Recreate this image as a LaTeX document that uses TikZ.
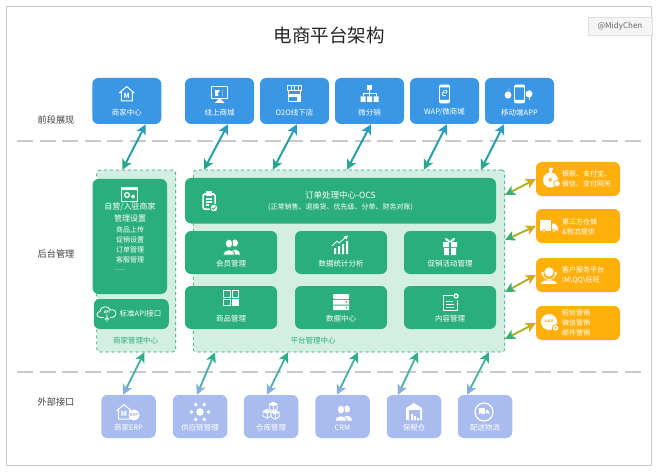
\documentclass[tikz,border=0pt]{standalone}
\usepackage{fontspec}
\setmainfont{Noto Sans CJK SC}
\usetikzlibrary{arrows.meta,calc}
\definecolor{cBlue}{HTML}{3A97E6}
\definecolor{cGreen}{HTML}{2BAE7E}
\definecolor{cPale}{HTML}{D3EFE4}
\definecolor{cOrange}{HTML}{FFB00D}
\definecolor{cPurple}{HTML}{A9BCF0}
\definecolor{cGrey}{HTML}{C9C9C9}
\definecolor{cTeal}{HTML}{27A0A8}
\definecolor{cTealA}{HTML}{2C9CC4}
\definecolor{cTealB}{HTML}{27A78C}
\definecolor{cLow}{HTML}{4FB0A8}
\definecolor{cLowA}{HTML}{2FAE8C}
\definecolor{cLowB}{HTML}{86AEE0}
\definecolor{cOlive}{HTML}{A9B02E}
\definecolor{cOliveA}{HTML}{D6AC14}
\definecolor{cOliveB}{HTML}{3AAE70}
\tikzset{
	box/.style={inner sep=0pt, minimum width=#1, rounded corners=6pt},
	bluebox/.style={box=69pt, fill=cBlue, minimum height=46pt},
	greenbox/.style={box=92pt, fill=cGreen, minimum height=43pt},
	orangebox/.style={box=84pt, fill=cOrange, minimum height=34pt},
	purplebox/.style={box=54.5pt, fill=cPurple, minimum height=43pt},
	ctrbox/.style={inner sep=0pt, fill=cPale, draw=cGreen!90!black, dashed, line width=.6pt, rounded corners=3pt},
	txt/.style={text=white, inner sep=0pt, font=\fontsize{7.5}{9}\selectfont},
	side/.style={text=black!75, inner sep=0pt, font=\fontsize{9.2}{11}\selectfont},
	ico/.style={draw=white, line width=.8pt},
	icotxt/.style={text=white, inner sep=0pt, font=\bfseries\fontsize{#1}{#1}\selectfont},
	sepline/.style={draw=cGrey, line width=1.1pt, dash pattern=on 16pt off 6.5pt},
	arrtop/.style={draw=cTeal, line width=2pt, {Stealth[length=10pt,width=10pt,inset=2.5pt,color=cTealB]}-{Stealth[length=10pt,width=10pt,inset=2.5pt,color=cTealA]}},
	arrlow/.style={draw=cLow, line width=1.9pt, {Stealth[length=10pt,width=10pt,inset=2.5pt,color=cLowB]}-{Stealth[length=10pt,width=10pt,inset=2.5pt,color=cLowA]}},
	arrside/.style={draw=cOlive, line width=1.9pt, {Stealth[length=10pt,width=10pt,inset=2.5pt,color=cOliveB]}-{Stealth[length=10pt,width=10pt,inset=2.5pt,color=cOliveA]}},
}
% icons, drawn round (0,0), y going down
\newcommand{\icoHouse}{
	\draw[ico,line width=1pt] (-7.5,-1)--(0,-7.5)--(7.5,-1) (-5.5,-2)--(-5.5,7)--(5.5,7)--(5.5,-2);
	\node[icotxt=7] (mk) at (0,2) {M};
}
\newcommand{\icoPeople}[1]{
	\fill[white] (4,-4) ellipse (3 and 3.6);
	\fill[white] (-1,7.5) .. controls (0,1) and (8,1) .. (9,7.5) -- cycle;
	\draw[#1,fill=white,line width=.7pt] (-2,-3.5) ellipse (3.6 and 4.4);
	\draw[#1,fill=white,line width=.7pt] (-8,8) .. controls (-7,1) and (3,1) .. (4,8) -- cycle;
}
\newcommand{\icoTruck}[1]{
	\fill[white] (-9,-6.5) rectangle (2,4);
	\fill[white] (3,-3)--(6,-3)--(9,1)--(9,4)--(3,4)--cycle;
	\draw[#1,fill=white,line width=.7pt] (-5,4.5) circle (1.6) (5,4.5) circle (1.6);
}
\newcommand{\icoPhone}{
	\draw[ico,rounded corners=1.5pt,line width=.9pt] (-5,-9) rectangle (5,9);
	\fill[white] (-5,-9) rectangle (5,-6.5) (-5,6) rectangle (5,9);
}
\begin{document}
\begin{tikzpicture}[x=1pt, y=-1pt, line join=round]
	\useasboundingbox (0,0) rectangle (658,473);
	\fill[white] (0,0) rectangle (658,473);
	\draw[cGrey, line width=.8pt] (6.5,6) rectangle (651.5,465.5);
	\node[draw=black!12, fill=black!4, inner sep=0pt, minimum width=64pt, minimum height=18pt, text=black!60, font=\fontsize{8}{9}\selectfont] (mark) at (620,26) {@MidyChen};
	\node[inner sep=0pt, text=black!85, font=\fontsize{18.5}{22}\selectfont] (title) at (329,35) {电商平台架构};
	\draw[sepline] (17,141) -- (642,141);
	\draw[sepline] (17,372) -- (642,372);
	\node[side] (lab1) at (56,120) {前段展现};
	\node[side] (lab2) at (56,254) {后台管理};
	\node[side] (lab3) at (56,402) {外部接口};
	% front row
	\foreach \n/\x/\t in {b1/126.75/商家中心, b2/219.5/线上商城, b3/294.5/O2O线下店, b4/369.5/微分销, b5/444.5/{WAP/微商城}, b6/519.5/移动端APP}{
		\node[bluebox] (\n) at (\x,101) {};
		\node[txt] (\n t) at (\x,112.5) {\t};
	}
	% containers
	\node[ctrbox, minimum width=79pt, minimum height=182pt] (merch) at (136.25,261) {};
	\node[ctrbox, minimum width=311.5pt, minimum height=182pt] (plat) at (349,261) {};
	\node[txt, text=cGreen] (merchlab) at (135.5,341) {商家管理中心};
	\node[txt, text=cGreen] (platlab) at (313,341) {平台管理中心};
	% merchant side
	\node[box=74.5pt, fill=cGreen, minimum height=115pt] (self) at (129.75,236.5) {};
	\node[txt, font=\fontsize{8}{10}\selectfont] (s1) at (130,207) {自营/入驻商家};
	\node[txt, font=\fontsize{8}{10}\selectfont] (s2) at (130,218) {管理设置};
	\foreach \n/\y/\t in {s3/230/商品上传, s4/240/促销设置, s5/250/订单管理, s6/260/客服管理}
		\node[txt, font=\fontsize{7}{9}\selectfont] (\n) at (130,\y) {\t};
	\node[txt, font=\fontsize{7}{9}\selectfont] (s7) at (120,270) {......};
	\node[box=75pt, fill=cGreen, minimum height=30pt] (api) at (131.25,314) {};
	\node[txt, font=\fontsize{7.5}{10}\selectfont] (apit) at (140.5,314) {标准API接口};
	% platform side
	\node[box=311pt, fill=cGreen, minimum height=45.5pt] (ocs) at (340.5,200.75) {};
	\node[txt, font=\fontsize{8.5}{10}\selectfont] (ocs1) at (340.5,195) {订单处理中心-OCS};
	\node[txt, font=\fontsize{7}{9}\selectfont] (ocs2) at (340.5,207) {(正常销售、退换货、优先级、分单、财务对账)};
	\foreach \n/\x/\y/\t in {g1/231/252.5/会员管理, g2/341/252.5/数据统计分析, g3/450/252.5/促销活动管理, g4/231/307.5/商品管理, g5/341/307.5/数据中心, g6/450/307.5/内容管理}{
		\node[greenbox] (\n) at (\x,\y) {};
		\node[txt] (\n t) at (\x,\y+11) {\t};
	}
	% right side
	\foreach \n/\y in {o1/179, o2/226, o3/275, o4/323}
		\node[orangebox] (\n) at (578,\y) {};
	\foreach \n/\y/\t in {o1a/174/银联、支付宝、, o1b/184/微信、支付网关, o2a/222/第三方仓储, o2b/232/\&物流提供, o3a/270/客户服务平台, o3b/280/IM\textbackslash QQ\textbackslash 旺旺, o4a/313/短信营销, o4b/323/微信营销, o4c/333/邮件营销}
		\node[txt, anchor=west, font=\fontsize{7}{9}\selectfont] (\n) at (562,\y) {\t};
	% bottom row
	\foreach \n/\x/\t in {p1/128.5/商家ERP, p2/200/供应链管理, p3/271/仓库管理, p4/342.5/CRM, p5/414/保税仓, p6/485/配送物流}{
		\node[purplebox] (\n) at (\x,416.5) {};
		\node[txt] (\n t) at (\x,428) {\t};
	}
	% connectors
	\foreach \a/\sa/\c/\sc in {b1/19/merch/26, b2/8.5/plat/11, b3/2.5/plat/80, b4/1.5/plat/154, b5/2.5/plat/231, b6/-15.5/plat/288}
		\draw[arrtop] ([xshift=\sc pt]\c.north west) -- ([xshift=\sa pt]\a.south);
	\foreach \c/\sc/\a/\sa in {merch/48/p1/-5.5, plat/22/p2/-3, plat/95/p3/-4, plat/165/p4/-5.5, plat/225/p5/-16, plat/296/p6/-18}
		\draw[arrlow] ([xshift=\sa pt]\a.north) -- ([xshift=\sc pt]\c.south west);
	\foreach \s/\a in {66/o1, 21/o2, -31/o3, -78/o4}
		\draw[arrside] ([yshift=\s pt]plat.east) -- (\a.west);
	% icons, front row
	\begin{scope}[shift={(b1.center)}, yshift=7pt] \icoHouse \end{scope}
	\begin{scope}[shift={(b2.center)}, yshift=7pt]
		\draw[ico,line width=1pt] (-8,-7) rectangle (8,5);
		\fill[white] (-5,-4) rectangle (3,2);
		\fill[cBlue] (1,-4) .. controls (-2,-1) and (-2,1) .. (-1,2) -- (3,2) -- (3,-4) -- cycle;
		\fill[white] (-5,9)--(5,9)--(1,5)--(-1,5)--cycle;
	\end{scope}
	\begin{scope}[shift={(b3.center)}, yshift=7pt]
		\draw[ico,line width=1pt] (-7,-8) rectangle (7,-3) (-6,-3)--(-6,8)--(6,8)--(6,-3);
		\foreach \x in {-3.5,0,3.5} \draw[ico] (\x,-8)--(\x,-3);
		\fill[white] (-6,0) rectangle (6,3);
		\fill[white] (2,3) rectangle (6,8);
	\end{scope}
	\begin{scope}[shift={(b4.center)}, yshift=7pt]
		\fill[white] (-2.5,-9) rectangle (2.5,-4);
		\fill[white] (-9,2.5) rectangle (-4,8) (-2.5,2.5) rectangle (2.5,8) (4,2.5) rectangle (9,8);
		\draw[ico] (0,-4)--(0,2.5) (-6.5,2.5)--(-6.5,-.5)--(6.5,-.5)--(6.5,2.5);
	\end{scope}
	\begin{scope}[shift={(b5.center)}, yshift=7pt]
		\icoPhone
		\node[text=white, inner sep=0pt, xslant=.3, transform shape, font=\fontsize{11}{11}\selectfont] (ee) at (0,-.5) {e};
	\end{scope}
	\begin{scope}[shift={(b6.center)}, yshift=7pt]
		\icoPhone
		\fill[white] (-11.5,1) ellipse (3.4 and 3.6) (-11,-4) -- (-10,-5.5) -- (-10.5,-3) -- cycle;
		\fill[white] (9.5,0) circle (3.5);
		\draw[ico,line width=1pt] (9.5,-4)--(9.5,6);
	\end{scope}
	% icons, green boxes
	\begin{scope}[shift={(129,194)}]
		\draw[ico] (-8,-7) rectangle (8,7);
		\fill[white] (-8,-7) rectangle (8,-4);
		\draw[ico,line width=1.2pt] (-2,1) circle (2.4) (4,2.5) circle (1.4);
	\end{scope}
	\begin{scope}[shift={(209,201)}]
		\draw[ico,line width=1.5pt,rounded corners=1.5pt] (-6,-7) -- (-6,8) -- (6,8) -- (6,-7) -- cycle;
		\fill[white] (-3,-10) rectangle (3,-5);
		\draw[ico,line width=1.2pt] (-3,-2)--(3,-2) (-3,1)--(3,1) (-3,4)--(0,4);
		\draw[cGreen,fill=white,line width=1pt] (5,7) circle (4);
		\draw[cGreen,line width=.8pt] (3,7)--(4.5,8.5)--(7,5.5);
	\end{scope}
	\begin{scope}[shift={(231,247)}] \icoPeople{cGreen} \end{scope}
	\begin{scope}[shift={(340,246)}]
		\fill[white] (-6,2) rectangle (-4,8) (-2,0) rectangle (0,8) (2,-2) rectangle (4,8) (6,-5) rectangle (8,8);
		\draw[ico] (-8,0) -- (-3,-5) -- (-1,-3) -- (6,-9);
		\fill[white] (8,-10.5) -- (3.5,-9.5) -- (6.5,-6.5) -- cycle;
	\end{scope}
	\begin{scope}[shift={(450,246)}]
		\fill[white] (-7,-4) rectangle (7,1) (-6,2) rectangle (6,9);
		\fill[cGreen] (-1.2,-4) rectangle (1.2,9);
		\draw[ico] (0,-4) .. controls (-7,-6) and (-5,-11) .. (0,-4) .. controls (5,-11) and (7,-6) .. (0,-4);
	\end{scope}
	\begin{scope}[shift={(231,298)}]
		\draw[ico] (-7.5,-7.5) rectangle (-1,-1) (1,-7.5) rectangle (7.5,-1) (-7.5,1) rectangle (-1,7.5);
		\fill[white] (1,1) rectangle (7.5,7.5);
	\end{scope}
	\begin{scope}[shift={(341,302)}]
		\fill[white,rounded corners=1pt] (-8,-8) rectangle (8,-3);
		\fill[white] (-8,-2) rectangle (8,2.5) (-8,3.5) rectangle (8,8);
		\fill[cGreen] (5.5,0) circle (.9) (5.5,5.5) circle (.9);
	\end{scope}
	\begin{scope}[shift={(450,302)}]
		\draw[ico] (3,-7) -- (-7,-7) -- (-7,8) -- (7,8) -- (7,-2);
		\draw[ico] (-4,-1)--(3,-1) (-4,2)--(4,2) (-4,5)--(4,5);
		\draw[ico,line width=1.3pt] (6,-6) circle (2);
	\end{scope}
	\begin{scope}[shift={(107,314)}]
		\draw[ico] (-3,3.5) -- (-7,3.5) .. controls (-11,3.5) and (-11,-2.5) .. (-7,-2.5) .. controls (-7,-8) and (2,-9) .. (3,-4) .. controls (7,-6) and (11,-1) .. (8,2) .. controls (7,3.5) and (5,3.5) .. (3,3.5);
		\draw[ico] (0,0)--(0,8) (-2,5.5)--(0,3.5)--(2,5.5);
		\node[icotxt=3.5] (cl) at (0,-1.5) {API};
	\end{scope}
	% icons, orange boxes
	\begin{scope}[shift={(550,179)}]
		\fill[white] (-1,-11) -- (3,-11) -- (1.5,-6) -- (-.5,-6) -- cycle;
		\fill[white] (.5,1) ellipse (7.5 and 7.5);
		\node[text=cOrange, inner sep=0pt, font=\bfseries\fontsize{6}{6}\selectfont] (yen) at (.5,1) {¥};
		\draw[cOrange,fill=white,line width=.7pt] (7,4.5) circle (3.2);
	\end{scope}
	\begin{scope}[shift={(549,226.5)}] \icoTruck{cOrange} \end{scope}
	\begin{scope}[shift={(549,275)}]
		\fill[white] (0,-3) circle (4.6);
		\draw[ico] (-6.5,-2) arc (180:360:6.5 and -6.5);
		\fill[white] (-7.5,-3) rectangle (-5.5,0) (5.5,-3) rectangle (7.5,0);
		\fill[white] (-8,9) .. controls (-8,4) and (8,4) .. (8,9) -- cycle;
	\end{scope}
	\begin{scope}[shift={(549,322)}]
		\fill[white] (0,0) circle (8);
		\node[text=cOrange, inner sep=0pt, font=\bfseries\fontsize{3.5}{4}\selectfont] (sale) at (0,-.5) {SALE};
		\draw[cOrange,fill=white,line width=.8pt] (6.5,6) circle (3.2);
		\fill[cOrange] (6.5,6) circle (1.1);
	\end{scope}
	% icons, bottom row
	\begin{scope}[shift={(124,412)}]
		\icoHouse
		\fill[white] (10,3) circle (5.5);
		\node[text=cPurple, inner sep=0pt, font=\bfseries\fontsize{4}{4}\selectfont] (erp) at (10,3) {ERP};
	\end{scope}
	\begin{scope}[shift={(200,412)}]
		\fill[white] (0,0) circle (3.8);
		\foreach \g in {0,60,...,300} \fill[white] (\g:8.5) circle (1.9);
	\end{scope}
	\begin{scope}[shift={(271,411.5)}, scale=.9]
		\foreach \cx/\cy in {2.5/-6, -4.5/2, 4.5/3}{
			\begin{scope}[shift={(\cx,\cy)}]
				\draw[ico] (-4.5,-2)--(0,-4.5)--(4.5,-2)--(4.5,3)--(0,5.5)--(-4.5,3)--cycle;
				\fill[white] (-4.5,-2)--(0,-4.5)--(4.5,-2)--(0,.5)--cycle;
				\draw[ico] (0,.5)--(0,5.5);
			\end{scope}
		}
	\end{scope}
	\begin{scope}[shift={(343,413)}] \icoPeople{cPurple} \end{scope}
	\begin{scope}[shift={(414,412)}]
		\fill[white] (-8,-4) -- (0,-9) -- (8,-4) -- (8,8) -- (-8,8) -- cycle;
		\fill[cPurple] (-5.5,-2) rectangle (5.5,8);
		\fill[white] (-3,2) rectangle (-1,8) (0,4) rectangle (2,8) (3,6) rectangle (5,8);
	\end{scope}
	\begin{scope}[shift={(484,412)}]
		\draw[ico,line width=1.2pt] (0,0) circle (9);
		\begin{scope}[scale=.6, yshift=.5pt] \icoTruck{cPurple} \end{scope}
	\end{scope}
\end{tikzpicture}
\end{document}
